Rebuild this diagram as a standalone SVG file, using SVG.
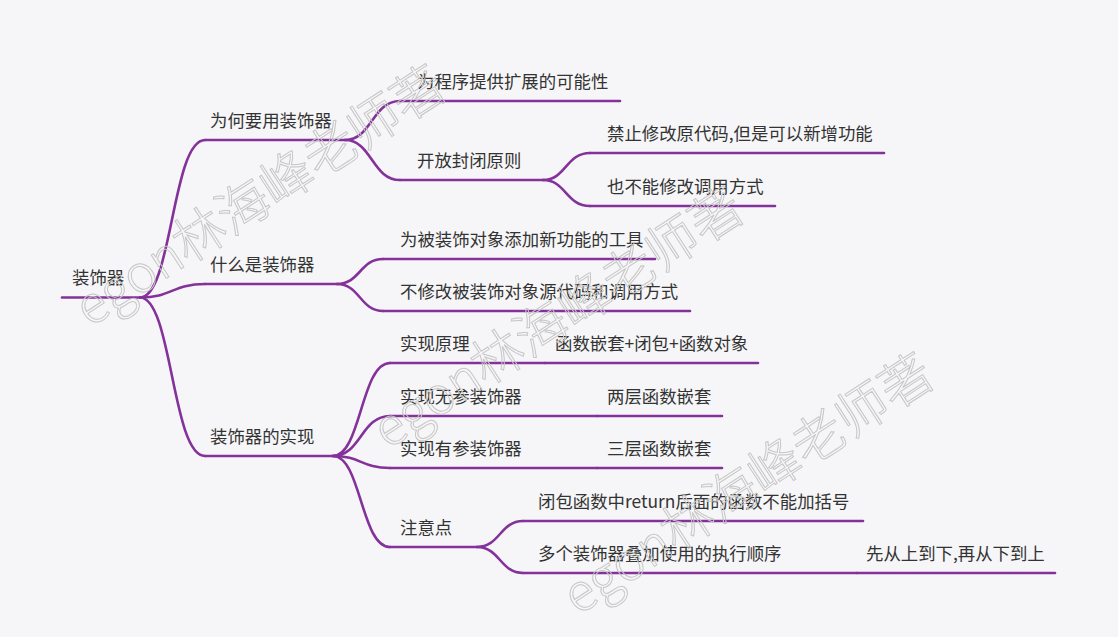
<svg xmlns="http://www.w3.org/2000/svg" width="1118" height="637" viewBox="0 0 1118 637">
<style>
.bg{fill:#f6f6f8}
.ln{fill:none;stroke:#84329a;stroke-width:2.6;stroke-linecap:round}
.t{font-family:"Noto Sans CJK SC","Noto Sans",sans-serif;font-size:17.4px;fill:#333}
.wm{font-family:"Noto Sans CJK SC","Noto Sans",sans-serif;font-size:52px;font-weight:300;fill:none;stroke:#c6c6c6;stroke-width:1}
</style>
<rect class="bg" x="0" y="0" width="1118" height="637"/>
<g id="connectors">
<path class="ln" d="M140,297.5 C172,297.5 172,140 205,140"/>
<path class="ln" d="M140,297.5 C172,297.5 172,284 205,284"/>
<path class="ln" d="M140,297.5 C172,297.5 172,456 205,456"/>
<path class="ln" d="M345,140 C372,140 372,101 400,101"/>
<path class="ln" d="M345,140 C372,140 372,180 400,180"/>
<path class="ln" d="M543,180 C566,180 566,153 590,153"/>
<path class="ln" d="M543,180 C566,180 566,206 590,206"/>
<path class="ln" d="M337,284 C360,284 360,259 383,259"/>
<path class="ln" d="M337,284 C360,284 360,311 383,311"/>
<path class="ln" d="M333,456 C361,456 361,363 390,363"/>
<path class="ln" d="M333,456 C361,456 361,416 390,416"/>
<path class="ln" d="M333,456 C361,456 361,468 390,468"/>
<path class="ln" d="M333,456 C361,456 361,547 390,547"/>
<path class="ln" d="M477,547 C500,547 500,521 523,521"/>
<path class="ln" d="M477,547 C500,547 500,573 523,573"/>
</g>
<g id="root"><path class="ln" d="M62,297.5 H140"/><text class="t" x="72" y="284">装饰器</text></g>
<g id="n-why"><path class="ln" d="M205,140 H345"/><text class="t" x="210" y="127">为何要用装饰器</text></g>
<g id="n-what"><path class="ln" d="M205,284 H337"/><text class="t" x="210" y="271">什么是装饰器</text></g>
<g id="n-impl"><path class="ln" d="M205,456 H333"/><text class="t" x="210" y="443">装饰器的实现</text></g>
<g id="n-ext"><path class="ln" d="M400,101 H620"/><text class="t" x="417" y="88">为程序提供扩展的可能性</text></g>
<g id="n-ocp"><path class="ln" d="M400,180 H543"/><text class="t" x="417" y="167">开放封闭原则</text></g>
<g id="n-ocp1"><path class="ln" d="M590,153 H884"/><text class="t" x="607" y="140">禁止修改原代码,但是可以新增功能</text></g>
<g id="n-ocp2"><path class="ln" d="M590,206 H775"/><text class="t" x="607" y="193">也不能修改调用方式</text></g>
<g id="n-what1"><path class="ln" d="M383,259 H655"/><text class="t" x="400" y="246">为被装饰对象添加新功能的工具</text></g>
<g id="n-what2"><path class="ln" d="M383,311 H690"/><text class="t" x="400" y="298">不修改被装饰对象源代码和调用方式</text></g>
<g id="n-principle"><path class="ln" d="M390,363 H545"/><text class="t" x="400" y="350">实现原理</text></g>
<g id="n-principle-v"><path class="ln" d="M545,363 H758"/><text class="t" x="555" y="350">函数嵌套+闭包+函数对象</text></g>
<g id="n-noarg"><path class="ln" d="M390,416 H597"/><text class="t" x="400" y="403">实现无参装饰器</text></g>
<g id="n-noarg-v"><path class="ln" d="M597,416 H722"/><text class="t" x="607" y="403">两层函数嵌套</text></g>
<g id="n-arg"><path class="ln" d="M390,468 H597"/><text class="t" x="400" y="455">实现有参装饰器</text></g>
<g id="n-arg-v"><path class="ln" d="M597,468 H722"/><text class="t" x="607" y="455">三层函数嵌套</text></g>
<g id="n-note"><path class="ln" d="M390,547 H477"/><text class="t" x="400" y="534">注意点</text></g>
<g id="n-note1"><path class="ln" d="M523,521 H863"/><text class="t" x="538" y="508">闭包函数中return后面的函数不能加括号</text></g>
<g id="n-note2"><path class="ln" d="M523,573 H857"/><text class="t" x="538" y="560">多个装饰器叠加使用的执行顺序</text></g>
<g id="n-note2-v"><path class="ln" d="M857,573 H1055"/><text class="t" x="866" y="560">先从上到下,再从下到上</text></g>
<g id="watermarks">
<text class="wm" transform="translate(90,328) rotate(-33)">egon林海峰老师著</text>
<text class="wm" transform="translate(388,450) rotate(-33)">egon林海峰老师著</text>
<text class="wm" transform="translate(578,616) rotate(-33)">egon林海峰老师著</text>
</g>
</svg>
